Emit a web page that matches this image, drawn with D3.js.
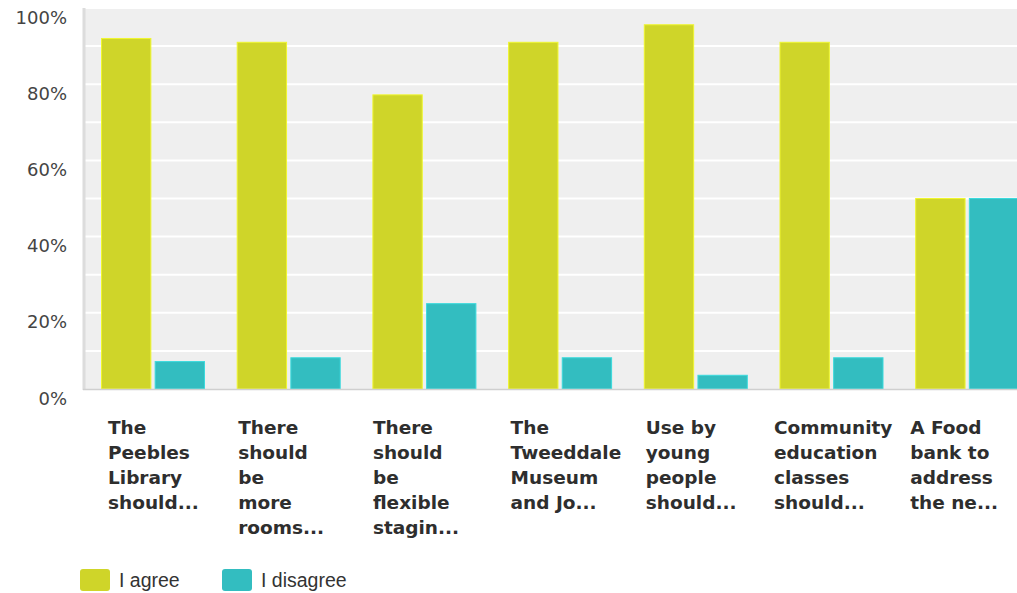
<!DOCTYPE html>
<html>
<head>
<meta charset="utf-8">
<script src="https://cdn.jsdelivr.net/npm/d3@7"></script>
<style>
  html, body { margin: 0; padding: 0; background: #fff; }
  svg { display: block; }
</style>
</head>
<body>
<div id="chart"></div>
<script>
// data
var categories = ["Peebles Library", "More rooms", "Flexible staging", "Tweeddale Museum",
                  "Young people", "Community education", "Food bank"];
var labelLines = [
    ["The", "Peebles", "Library", "should..."],
    ["There", "should", "be", "more", "rooms..."],
    ["There", "should", "be", "flexible", "stagin..."],
    ["The", "Tweeddale", "Museum", "and Jo..."],
    ["Use by", "young", "people", "should..."],
    ["Community", "education", "classes", "should..."],
    ["A Food", "bank to", "address", "the ne..."]
];
var agree    = [92.0, 91.0, 77.2, 91.0, 95.6, 91.0, 50];
var disagree = [7.2, 8.2, 22.4, 8.2, 3.6, 8.2, 50];
var series = ["I agree", "I disagree"];
var yTicks = [0, 20, 40, 60, 80, 100];

var colors = {"I agree": "#cfd529", "I disagree": "#33bdc0"};

var width = 1017,
    height = 593;

var svg = d3.select('#chart').append('svg')
    .attr('width', width)
    .attr('height', height);

// plot box
let plotLeft = 83, plotTop = 8, plotBottom = 389;
let bandW = 135.7;

let x = d3.scaleBand().domain(categories)
    .range([plotLeft, plotLeft + bandW * categories.length])
    .paddingInner(0).paddingOuter(0);
let xSub = d3.scaleBand().domain(series)
    .range([18.5, 18.5 + 103])
    .paddingInner(0.08);
let y = d3.scaleLinear().domain([0, 100]).range([plotBottom, plotTop]);

// background
svg.append("rect")
    .attr("x", plotLeft).attr("y", plotTop)
    .attr("width", width - plotLeft).attr("height", plotBottom - plotTop)
    .attr("fill", "#efefef");

// gridlines every 10%
svg.append("g").selectAll("line").data(d3.range(10, 101, 10)).enter()
    .append("line")
    .attr("x1", plotLeft).attr("x2", width)
    .attr("y1", d => y(d)).attr("y2", d => y(d))
    .attr("stroke", "#ffffff").attr("stroke-width", 2);

// y tick labels
svg.append("g").selectAll("text").data(yTicks).enter()
    .append("text")
    .attr("x", 67)
    .attr("y", d => y(d) + 9)
    .attr("text-anchor", "end")
    .attr("dominant-baseline", "central")
    .attr("font-family", "DejaVu Sans, sans-serif")
    .attr("font-size", "18px")
    .attr("fill", "#444")
    .text(d => d + "%");

// bars
let rows = categories.map((c, i) => ({cat: c, vals: [
    {s: "I agree", v: agree[i]}, {s: "I disagree", v: disagree[i]}]}));

let groups = svg.append("g").selectAll("g").data(rows).enter()
    .append("g")
    .attr("transform", d => "translate(" + x(d.cat) + ",0)");

groups.selectAll("rect").data(d => d.vals).enter()
    .append("rect")
    .attr("x", d => xSub(d.s))
    .attr("y", d => y(d.v))
    .attr("width", xSub.bandwidth())
    .attr("height", d => plotBottom - y(d.v))
    .attr("fill", d => colors[d.s])
    .attr("stroke", d => d3.color(colors[d.s]).brighter(0.4))
    .attr("stroke-width", 1);

// axis lines
svg.append("line")
    .attr("x1", plotLeft + 1).attr("x2", plotLeft + 1)
    .attr("y1", plotTop).attr("y2", plotBottom + 1)
    .attr("stroke", "#dcdcdc").attr("stroke-width", 3);
svg.append("line")
    .attr("x1", plotLeft).attr("x2", width)
    .attr("y1", plotBottom + 0.5).attr("y2", plotBottom + 0.5)
    .attr("stroke", "#cfcfcf").attr("stroke-width", 1.5);

// category labels
let labelDx = [25, 19.5, 18.5, 20.5, 20, 12.5, 13];
let labels = svg.append("g").selectAll("text").data(categories).enter()
    .append("text")
    .attr("font-family", "DejaVu Sans, sans-serif")
    .attr("font-weight", "bold")
    .attr("font-size", "18.5px")
    .attr("fill", "#2e2e2e");
labels.each(function(d, i) {
    let t = d3.select(this);
    labelLines[i].forEach((line, j) => {
        t.append("tspan")
            .attr("x", x(d) + labelDx[i])
            .attr("y", 427 + j * 25)
            .attr("dominant-baseline", "central")
            .text(line);
    });
});

// legend
let legendX = [80, 222];
let legend = svg.append("g").selectAll("g").data(series).enter()
    .append("g")
    .attr("transform", (d, i) => "translate(" + legendX[i] + ",569)");
legend.append("rect")
    .attr("width", 30).attr("height", 22)
    .attr("rx", 3)
    .attr("fill", d => colors[d]);
legend.append("text")
    .attr("x", 39).attr("y", 11)
    .attr("dominant-baseline", "central")
    .attr("font-family", "Liberation Sans, Arial, sans-serif")
    .attr("font-size", "19.5px")
    .attr("fill", "#333")
    .text(d => d);
</script>
</body>
</html>
